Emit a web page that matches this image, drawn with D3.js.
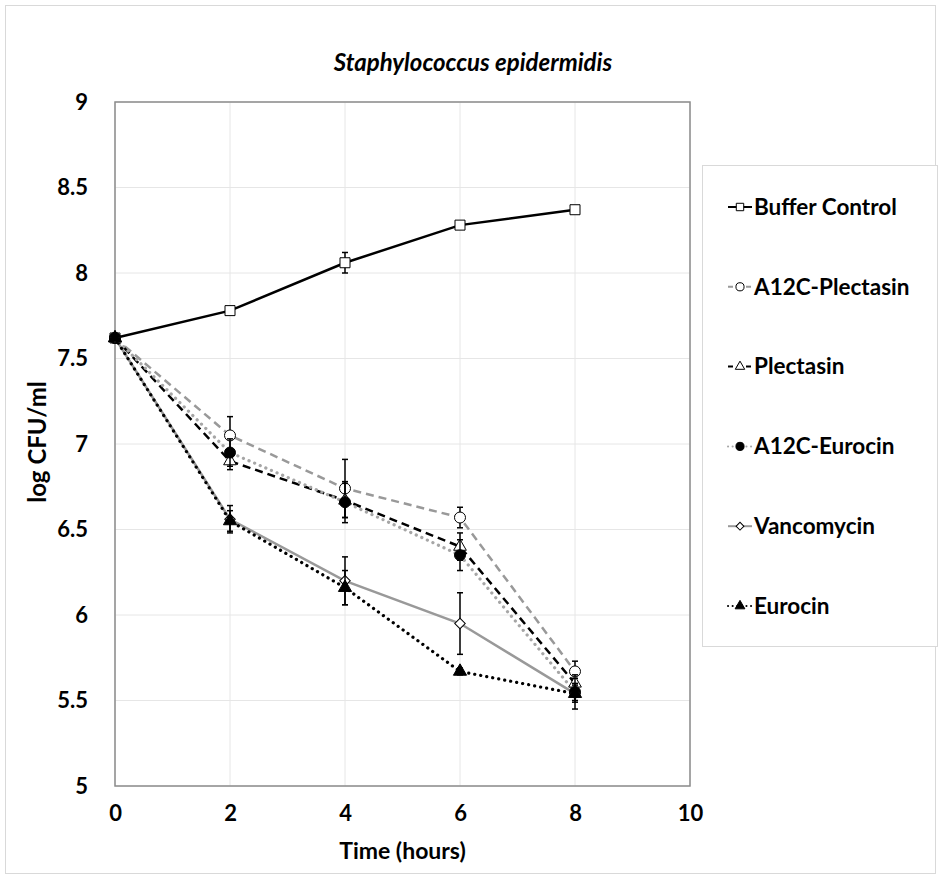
<!DOCTYPE html>
<html>
<head>
<meta charset="utf-8">
<script src="https://cdn.jsdelivr.net/npm/d3@7/dist/d3.min.js"></script>
<style>
body { margin: 0; background: #fff; }
text { font-family: Lato, "Open Sans", sans-serif; font-weight: bold; fill: #000; }
</style>
</head>
<body>
<div id="chart"></div>
<script>
// time points (hours)
var hours = [0, 2, 4, 6, 8];
var xTicks = [0, 2, 4, 6, 8, 10];
var yTicks = [5, 5.5, 6, 6.5, 7, 7.5, 8, 8.5, 9];

// series, in legend order
var seriesNames = ["Buffer Control", "A12C-Plectasin", "Plectasin", "A12C-Eurocin", "Vancomycin", "Eurocin"];
var bufferControl = [7.62, 7.78, 8.06, 8.28, 8.37];
var a12cPlectasin = [7.62, 7.05, 6.74, 6.57, 5.67];
var plectasin     = [7.62, 6.90, 6.67, 6.40, 5.60];
var a12cEurocin   = [7.62, 6.95, 6.66, 6.35, 5.55];
var vancomycin    = [7.62, 6.56, 6.20, 5.95, 5.54];
var eurocin       = [7.62, 6.55, 6.16, 5.67, 5.54];

// error (+/-)
var bufferControlErr = [0, 0.02, 0.06, 0.02, 0.02];
var a12cPlectasinErr = [0, 0.11, 0.17, 0.06, 0.06];
var plectasinErr     = [0, 0.05, 0.10, 0.08, 0.05];
var a12cEurocinErr   = [0, 0.08, 0.12, 0.09, 0.05];
var vancomycinErr    = [0, 0.08, 0.14, 0.18, 0.05];
var eurocinErr       = [0, 0.06, 0.10, 0.02, 0.09];

var styles = [
  {stroke: "#000",    dash: null,  cap: "butt",  sym: d3.symbolSquare,   size: 100, fill: "#fff", rot: 0},
  {stroke: "#999",    dash: "8,5", cap: "butt",  sym: d3.symbolCircle,   size: 95,  fill: "#fff", rot: 0},
  {stroke: "#000",    dash: "8,5", cap: "butt",  sym: d3.symbolTriangle, size: 70,  fill: "#fff", rot: 0},
  {stroke: "#a6a6a6", dash: "0.1,6", cap: "round", sym: d3.symbolCircle, size: 95, fill: "#000", rot: 0},
  {stroke: "#999",    dash: null,  cap: "butt",  sym: d3.symbolSquare,   size: 55,  fill: "#fff", rot: 45},
  {stroke: "#000",    dash: "0.1,6", cap: "round", sym: d3.symbolTriangle, size: 75, fill: "#000", rot: 0}
];

var values = [bufferControl, a12cPlectasin, plectasin, a12cEurocin, vancomycin, eurocin];
var errors = [bufferControlErr, a12cPlectasinErr, plectasinErr, a12cEurocinErr, vancomycinErr, eurocinErr];

var series = seriesNames.map(function(n, i) {
  return {name: n, style: styles[i], points: hours.map(function(h, j) {
    return {x: h, y: values[i][j], e: errors[i][j]};
  })};
});

var W = 941, H = 880;
var svg = d3.select("#chart").append("svg").attr("width", W).attr("height", H);

// outer chart frame
svg.append("rect").attr("x", 5.5).attr("y", 5.5).attr("width", 930).attr("height", 868)
  .attr("fill", "#fff").attr("stroke", "#d9d9d9");

var x = d3.scaleLinear().domain([0, 10]).range([115, 690]);
var y = d3.scaleLinear().domain([5, 9]).range([786, 102]);

// gridlines
svg.append("g").selectAll("line.h").data(yTicks).join("line")
  .attr("x1", x(0)).attr("x2", x(10))
  .attr("y1", function(d) { return y(d); }).attr("y2", function(d) { return y(d); })
  .attr("stroke", "#e6e6e6").attr("stroke-width", 1);
svg.append("g").selectAll("line.v").data(xTicks).join("line")
  .attr("y1", y(5)).attr("y2", y(9))
  .attr("x1", function(d) { return x(d); }).attr("x2", function(d) { return x(d); })
  .attr("stroke", "#e6e6e6").attr("stroke-width", 1);

// plot border
svg.append("rect").attr("x", x(0)).attr("y", y(9))
  .attr("width", x(10) - x(0)).attr("height", y(5) - y(9))
  .attr("fill", "none").attr("stroke", "#8c8c8c").attr("stroke-width", 1.5);

// axes labels
var xAxis = d3.axisBottom(x).tickValues(xTicks).tickSize(0).tickPadding(19);
var gx = svg.append("g").attr("transform", "translate(0," + y(5) + ")").call(xAxis);
gx.select(".domain").remove();
gx.selectAll("text").style("font-size", "22px").style("font-family", "Lato, sans-serif");

var yAxis = d3.axisLeft(y).tickValues(yTicks).tickFormat(d3.format("")).tickSize(0).tickPadding(27);
var gy = svg.append("g").attr("transform", "translate(" + x(0) + ",0)").call(yAxis);
gy.select(".domain").remove();
gy.selectAll("text").style("font-size", "22px").style("font-family", "Lato, sans-serif");

svg.append("text").attr("x", 473).attr("y", 71).attr("text-anchor", "middle")
  .style("font-size", "24px").style("font-style", "italic")
  .text("Staphylococcus epidermidis");

svg.append("text").attr("x", (x(0) + x(10)) / 2).attr("y", 859).attr("text-anchor", "middle")
  .style("font-size", "23px").text("Time (hours)");

svg.append("text").attr("transform", "translate(46," + (y(7) - 2) + ") rotate(-90)")
  .attr("text-anchor", "middle").style("font-size", "24px").text("log CFU/ml");

var line = d3.line().x(function(d) { return x(d.x); }).y(function(d) { return y(d.y); });

// lines
series.forEach(function(s) {
  svg.append("path").datum(s.points).attr("d", line)
    .attr("fill", "none").attr("stroke", s.style.stroke)
    .attr("stroke-width", s.style.cap === "round" ? 3.2 : 2.5)
    .attr("stroke-dasharray", s.style.dash).attr("stroke-linecap", s.style.cap);
});

// error bars and markers
series.forEach(function(s) {
  var g = svg.append("g");
  var eb = g.selectAll("g.err").data(s.points.filter(function(p) { return p.e > 0; })).join("g");
  eb.append("line")
    .attr("x1", function(d) { return x(d.x); }).attr("x2", function(d) { return x(d.x); })
    .attr("y1", function(d) { return y(d.y - d.e); }).attr("y2", function(d) { return y(d.y + d.e); })
    .attr("stroke", "#000").attr("stroke-width", 1.5);
  [-1, 1].forEach(function(sg) {
    eb.append("line")
      .attr("x1", function(d) { return x(d.x) - 3; }).attr("x2", function(d) { return x(d.x) + 3; })
      .attr("y1", function(d) { return y(d.y + sg * d.e); }).attr("y2", function(d) { return y(d.y + sg * d.e); })
      .attr("stroke", "#000").attr("stroke-width", 1.5);
  });
  g.selectAll("path").data(s.points).join("path")
    .attr("d", d3.symbol().type(s.style.sym).size(s.style.size))
    .attr("transform", function(d) { return "translate(" + x(d.x) + "," + y(d.y) + ") rotate(" + s.style.rot + ")"; })
    .attr("fill", s.style.fill).attr("stroke", "#000").attr("stroke-width", 1);
});

// legend
svg.append("rect").attr("x", 702.5).attr("y", 165.5).attr("width", 235).attr("height", 481)
  .attr("fill", "#fff").attr("stroke", "#d9d9d9");

var legendY = d3.scalePoint().domain(seriesNames).range([207, 606]);
var lg = svg.append("g").selectAll("g").data(series).join("g")
  .attr("transform", function(d) { return "translate(0," + legendY(d.name) + ")"; });
lg.append("line").attr("x1", 728).attr("x2", 752).attr("y1", 0).attr("y2", 0)
  .attr("stroke", function(d) { return d.style.stroke; }).attr("stroke-width", 2)
  .attr("stroke-dasharray", function(d) { return d.style.dash ? (d.style.cap === "round" ? "0.1,4.5" : "5,4") : null; })
  .attr("stroke-linecap", function(d) { return d.style.cap; });
lg.append("path")
  .attr("d", function(d) { return d3.symbol().type(d.style.sym).size(d.style.size * 0.55)(); })
  .attr("transform", function(d) { return "translate(740,0) rotate(" + d.style.rot + ")"; })
  .attr("fill", function(d) { return d.style.fill; }).attr("stroke", "#000").attr("stroke-width", 1);
lg.append("text").attr("x", 754).attr("y", 0).attr("dy", "0.35em")
  .style("font-size", "22.5px").text(function(d) { return d.name; });
</script>
</body>
</html>
